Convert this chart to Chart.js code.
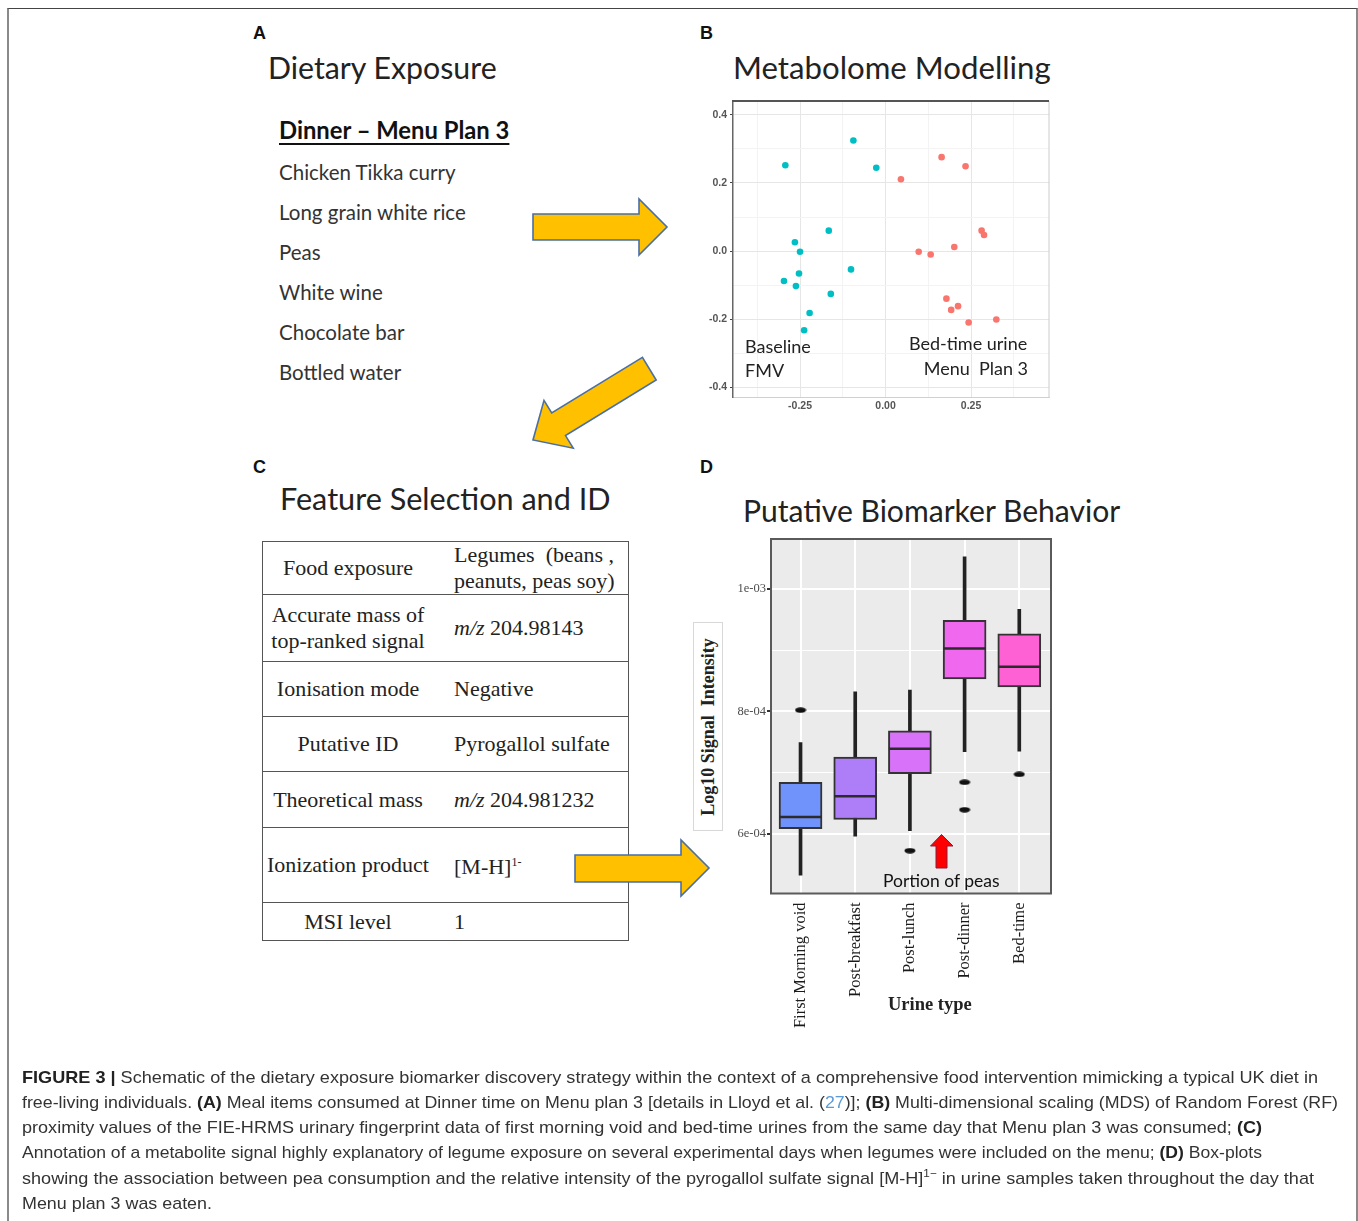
<!DOCTYPE html>
<html>
<head>
<meta charset="utf-8">
<script src="https://cdn.jsdelivr.net/npm/chart.js@4.4.1/dist/chart.umd.min.js"></script>
<style>
body { margin: 0; background: #fff; }
#page { position: relative; width: 1358px; height: 1221px; overflow: hidden; font-family: Lato, sans-serif; color: #222; }
.t { position: absolute; white-space: nowrap; line-height: 30px; height: 30px; }
.lbl { font-family: "Liberation Sans", Arial, sans-serif; font-weight: bold; font-size: 18px; color: #111; }
.ttl { color: #222; }
.item { font-size: 20.5px; color: #333; }
.ann { font-size: 18px; color: #222; }
#frame { position: absolute; left: 7px; top: 8px; width: 1347px; height: 1300px; border-top: 1.5px solid #444; border-left: 2px solid #8a8a8a; border-right: 2px solid #8a8a8a; }
#tbl { position: absolute; left: 262px; top: 541px; width: 367px; border-collapse: collapse; font-family: "Liberation Serif", serif; font-size: 22px; color: #222; }
#tbl td { border-top: 1.5px solid #555; border-bottom: 1.5px solid #555; padding: 0; line-height: 26px; }
#tbl td.c1 { width: 170px; text-align: center; border-left: 1.5px solid #555; }
#tbl td.c2 { padding-left: 21px; border-right: 1.5px solid #555; }
#tbl sup { font-size: 12px; }
#ytitle { position: absolute; left: 693px; top: 622px; width: 28px; height: 207px; border: 1px solid #d8d8d8; background: #fff; }
#ytitle span { position: absolute; left: 50%; top: 50%; transform: translate(-50%, -50%) rotate(-90deg); white-space: nowrap; font-family: "Liberation Serif", serif; font-weight: bold; font-size: 18px; color: #222; }
.cap { position: absolute; left: 22px; white-space: nowrap; font-family: "Liberation Sans", Arial, sans-serif; font-size: 17px; color: #333; line-height: 24px; height: 24px; transform-origin: 0 50%; }
.cap b { color: #222; }
.sp { font-size: 11px; position: relative; top: -7px; line-height: 0; }
canvas { position: absolute; }
svg { position: absolute; left: 0; top: 0; }
</style>
</head>
<body>
<div id="page">
<div id="frame"></div>

<div class="t lbl" style="left:253px;top:18px">A</div>
<div class="t lbl" style="left:700px;top:18px">B</div>
<div class="t lbl" style="left:253px;top:452px">C</div>
<div class="t lbl" style="left:700px;top:452px">D</div>

<div class="t ttl" style="left:268px;top:52px;font-size:30.3px">Dietary Exposure</div>
<div class="t ttl" style="left:733px;top:52px;font-size:31.2px">Metabolome Modelling</div>
<div class="t ttl" style="left:280px;top:484px;font-size:30.6px">Feature Selection and ID</div>
<div class="t ttl" style="left:743px;top:495px;font-size:30.1px">Putative Biomarker Behavior</div>

<div class="t" style="left:279px;top:115px;font-size:23.8px;font-weight:bold;color:#111;text-decoration:underline;text-decoration-thickness:2px;text-underline-offset:4px">Dinner – Menu Plan 3</div>
<div class="t item" style="left:279px;top:157px">Chicken Tikka curry</div>
<div class="t item" style="left:279px;top:197px">Long grain white rice</div>
<div class="t item" style="left:279px;top:237px">Peas</div>
<div class="t item" style="left:279px;top:277px">White wine</div>
<div class="t item" style="left:279px;top:317px">Chocolate bar</div>
<div class="t item" style="left:279px;top:357px">Bottled water</div>

<canvas id="mds" width="370" height="330" style="left:690px;top:90px;width:370px;height:330px"></canvas>
<div class="t ann" style="left:745px;top:331px">Baseline</div>
<div class="t ann" style="left:745px;top:355px">FMV</div>
<div class="t ann" style="left:909px;top:328px">Bed-time urine</div>
<div class="t ann" style="right:330px;top:353px">Menu&nbsp; Plan 3</div>

<table id="tbl">
<tr style="height:53px"><td class="c1">Food exposure</td><td class="c2">Legumes&nbsp; (beans ,<br>peanuts, peas soy)</td></tr>
<tr style="height:67px"><td class="c1">Accurate mass of<br>top-ranked signal</td><td class="c2"><i>m/z</i> 204.98143</td></tr>
<tr style="height:55px"><td class="c1">Ionisation mode</td><td class="c2">Negative</td></tr>
<tr style="height:55px"><td class="c1">Putative ID</td><td class="c2">Pyrogallol sulfate</td></tr>
<tr style="height:56px"><td class="c1">Theoretical mass</td><td class="c2"><i>m/z</i> 204.981232</td></tr>
<tr style="height:75px"><td class="c1">Ionization product</td><td class="c2">[M-H]<sup>1-</sup></td></tr>
<tr style="height:38px"><td class="c1">MSI level</td><td class="c2">1</td></tr>
</table>

<canvas id="box" width="330" height="520" style="left:730px;top:530px;width:330px;height:520px"></canvas>
<div id="ytitle"><span>Log10 Signal&nbsp; Intensity</span></div>
<div class="t" style="left:883px;top:866px;font-size:17.5px;color:#111">Portion of peas</div>
<div class="t" style="left:888px;top:989px;font-family:'Liberation Serif',serif;font-weight:bold;font-size:18.5px;color:#222">Urine type</div>

<svg width="1358" height="1221">
  <g fill="#FFC000" stroke="#4a6fa5" stroke-width="1.6" stroke-linejoin="miter">
    <polygon points="533,214 639,214 639,199 667,227 639,255 639,240 533,240"/>
    <polygon points="642.4,357.4 551.7,413 544,400.4 533,440 573.2,448.2 565.5,435.6 656.2,380"/>
    <polygon points="575,855 681,855 681,840 709,868 681,896 681,882 575,882"/>
  </g>
  <polygon points="941.5,834.5 953,846 947,846 947,868 936,868 936,846 930.5,846" fill="#FF0000" stroke="#8a1a3a" stroke-width="1"/>
</svg>

<div class="cap" data-right="1318" style="top:1066px"><b>FIGURE 3 |</b> Schematic of the dietary exposure biomarker discovery strategy within the context of a comprehensive food intervention mimicking a typical UK diet in</div>
<div class="cap" data-right="1338" style="top:1091px">free-living individuals. <b>(A)</b> Meal items consumed at Dinner time on Menu plan 3 [details in Lloyd et al. (<span style="color:#5b9bd5">27</span>)]; <b>(B)</b> Multi-dimensional scaling (MDS) of Random Forest (RF)</div>
<div class="cap" data-right="1262" style="top:1116px">proximity values of the FIE-HRMS urinary fingerprint data of first morning void and bed-time urines from the same day that Menu plan 3 was consumed; <b>(C)</b></div>
<div class="cap" data-right="1262" style="top:1141px">Annotation of a metabolite signal highly explanatory of legume exposure on several experimental days when legumes were included on the menu; <b>(D)</b> Box-plots</div>
<div class="cap" data-right="1314" style="top:1167px">showing the association between pea consumption and the relative intensity of the pyrogallol sulfate signal [M-H]<span class="sp">1−</span> in urine samples taken throughout the day that</div>
<div class="cap" data-right="212" style="top:1192px">Menu plan 3 was eaten.</div>
</div>

<script>
// Panel B: MDS of RF proximity
const fmvX = [-0.293, -0.094, -0.027, -0.166, -0.265, -0.250, -0.253, -0.297, -0.262, -0.101, -0.160, -0.222, -0.238];
const fmvY = [0.252, 0.325, 0.245, 0.060, 0.026, -0.002, -0.066, -0.088, -0.103, -0.054, -0.126, -0.182, -0.233];
const bedX = [0.164, 0.234, 0.045, 0.281, 0.288, 0.201, 0.097, 0.132, 0.178, 0.192, 0.212, 0.243, 0.324];
const bedY = [0.276, 0.249, 0.211, 0.060, 0.047, 0.012, -0.002, -0.010, -0.140, -0.173, -0.162, -0.210, -0.201];
const mdsXTicks = [-0.375, -0.25, -0.125, 0, 0.125, 0.25, 0.375];
const mdsYTicks = [-0.4, -0.3, -0.2, -0.1, 0, 0.1, 0.2, 0.3, 0.4];

// Panel D: box plots
const urineTypes = ['First Morning void', 'Post-breakfast', 'Post-lunch', 'Post-dinner', 'Bed-time'];
const whiskerLow = [5.32e-4, 5.96e-4, 6.05e-4, 7.34e-4, 7.35e-4];
const boxQ1 = [6.08e-4, 6.23e-4, 6.98e-4, 8.53e-4, 8.40e-4];
const boxMedian = [6.27e-4, 6.61e-4, 7.39e-4, 9.03e-4, 8.73e-4];
const boxQ3 = [6.84e-4, 7.25e-4, 7.68e-4, 9.49e-4, 9.27e-4];
const whiskerHigh = [7.49e-4, 8.32e-4, 8.35e-4, 10.53e-4, 9.67e-4];
const outlierGroup = [1, 3, 4, 4, 5];
const outlierValue = [8.02e-4, 5.72e-4, 6.84e-4, 6.39e-4, 6.97e-4];
const intensityTicks = [6e-4, 7e-4, 8e-4, 9e-4, 1e-3];
const boxColors = ['#7093FB', '#AE7EF9', '#D873F9', '#EF68EE', '#FD61D3'];

const isMajorX = v => Math.abs(v * 4 - Math.round(v * 4)) < 1e-9;
const isMajorY = v => Math.abs(v * 5 - Math.round(v * 5)) < 1e-9;
const isMajorD = v => Math.round(v * 1e4) % 2 === 0;

const frameB = {
    id: 'frameB',
    afterDraw(chart) {
        const a = chart.chartArea, g = chart.ctx;
        g.save();
        g.strokeStyle = '#cccccc';
        g.lineWidth = 1;
        g.beginPath(); g.moveTo(a.right, a.top); g.lineTo(a.right, a.bottom); g.stroke();
        g.strokeStyle = '#555';
        g.lineWidth = 2;
        g.beginPath(); g.moveTo(a.left - 1, a.top); g.lineTo(a.right, a.top); g.stroke();
        g.restore();
    }
};

new Chart(document.getElementById('mds'), {
    type: 'scatter',
    data: {
        datasets: [
            { data: fmvX.map((x, i) => ({ x: x, y: fmvY[i] })), backgroundColor: '#00BFC4', pointRadius: 3.3, borderWidth: 0 },
            { data: bedX.map((x, i) => ({ x: x, y: bedY[i] })), backgroundColor: '#F8766D', pointRadius: 3.3, borderWidth: 0 }
        ]
    },
    options: {
        responsive: false,
        animation: false,
        layout: { padding: { top: 11, right: 11, left: 0, bottom: 0 } },
        plugins: { legend: { display: false }, tooltip: { enabled: false } },
        scales: {
            x: {
                type: 'linear', min: -0.446, max: 0.478,
                afterBuildTicks: s => { s.ticks = mdsXTicks.map(v => ({ value: v })); },
                afterFit: s => { s.height = 23; },
                grid: { color: c => isMajorX(c.tick.value) ? '#e6e6e6' : '#f3f3f3', lineWidth: 1, drawTicks: false },
                border: { display: true, color: '#d0d0d0', width: 1 },
                ticks: {
                    autoSkip: false, maxRotation: 0, padding: 3, color: '#555',
                    font: { family: 'Liberation Sans', size: 10.5, weight: 'bold' },
                    callback: v => isMajorX(v) ? v.toFixed(2) : ''
                }
            },
            y: {
                type: 'linear', min: -0.429, max: 0.441,
                afterBuildTicks: s => { s.ticks = mdsYTicks.map(v => ({ value: v })); },
                afterFit: s => { s.width = 43; },
                grid: {
                    color: c => isMajorY(c.tick.value) ? '#e6e6e6' : '#f3f3f3', lineWidth: 1,
                    tickLength: 3, tickColor: c => isMajorY(c.tick.value) ? '#444' : 'rgba(0,0,0,0)'
                },
                border: { display: true, color: '#666', width: 1.5 },
                ticks: {
                    autoSkip: false, padding: 3, color: '#555',
                    font: { family: 'Liberation Sans', size: 10.5, weight: 'bold' },
                    callback: v => isMajorY(v) ? v.toFixed(1) : ''
                }
            }
        }
    },
    plugins: [frameB]
});

// ellipse marker for outliers
const dot = document.createElement('canvas');
dot.width = 12; dot.height = 6;
const dg = dot.getContext('2d');
dg.fillStyle = '#111';
dg.beginPath(); dg.ellipse(6, 3, 5.5, 2.7, 0, 0, Math.PI * 2); dg.fill();

const panelD = {
    id: 'panelD',
    beforeDraw(chart) {
        const a = chart.chartArea, g = chart.ctx;
        g.save();
        g.fillStyle = '#EBEBEB';
        g.fillRect(a.left, a.top, a.width, a.height);
        g.restore();
    },
    afterDatasetsDraw(chart) {
        const g = chart.ctx, xs = chart.scales.x, ys = chart.scales.y;
        g.save();
        g.strokeStyle = '#2b2b2b';
        g.lineWidth = 2.5;
        boxMedian.forEach((m, i) => {
            const px = xs.getPixelForValue(i + 1), py = ys.getPixelForValue(m);
            g.beginPath(); g.moveTo(px - 21, py); g.lineTo(px + 21, py); g.stroke();
        });
        g.restore();
    },
    afterDraw(chart) {
        const a = chart.chartArea, g = chart.ctx;
        g.save();
        g.strokeStyle = '#5a5a5a';
        g.lineWidth = 2;
        g.strokeRect(a.left, a.top, a.width, a.height);
        g.restore();
    }
};

const fmtExp = v => v.toExponential(0).replace(/e([+-])(\d)$/, (m, s, d) => 'e' + s + '0' + d);

new Chart(document.getElementById('box'), {
    type: 'bar',
    data: {
        datasets: [
            {
                data: urineTypes.map((n, i) => ({ x: i + 1, y: [whiskerLow[i], whiskerHigh[i]] })),
                backgroundColor: '#222', barThickness: 3, grouped: false, order: 3, borderWidth: 0
            },
            {
                data: urineTypes.map((n, i) => ({ x: i + 1, y: [boxQ1[i], boxQ3[i]] })),
                backgroundColor: boxColors, borderColor: '#333', borderWidth: 2, borderSkipped: false,
                barThickness: 43, grouped: false, order: 2
            },
            {
                type: 'scatter',
                data: outlierValue.map((v, i) => ({ x: outlierGroup[i], y: v })),
                pointStyle: dot, order: 1
            }
        ]
    },
    options: {
        responsive: false,
        animation: false,
        layout: { padding: { top: 9, right: 9, left: 0, bottom: 0 } },
        plugins: { legend: { display: false }, tooltip: { enabled: false } },
        scales: {
            x: {
                type: 'linear', min: 0.46, max: 5.58, offset: false,
                afterBuildTicks: s => { s.ticks = urineTypes.map((n, i) => ({ value: i + 1 })); },
                afterFit: s => { s.height = 156.5; },
                grid: { color: '#ffffff', lineWidth: 2, drawTicks: false, offset: false },
                border: { display: false },
                ticks: {
                    autoSkip: false, minRotation: 90, maxRotation: 90, padding: 9, color: '#1a1a1a',
                    font: { family: 'Liberation Serif', size: 16.5 },
                    callback: v => urineTypes[Math.round(v) - 1]
                }
            },
            y: {
                type: 'linear', min: 5.02e-4, max: 10.82e-4,
                afterBuildTicks: s => { s.ticks = intensityTicks.map(v => ({ value: v })); },
                afterFit: s => { s.width = 41; },
                grid: {
                    color: '#ffffff', lineWidth: c => isMajorD(c.tick.value) ? 2 : 1,
                    tickLength: 4, tickColor: c => isMajorD(c.tick.value) ? '#333' : 'rgba(0,0,0,0)'
                },
                border: { display: false },
                ticks: {
                    autoSkip: false, padding: 1, color: '#4d4d4d',
                    font: { family: 'Liberation Serif', size: 12.5 },
                    callback: v => isMajorD(v) ? fmtExp(v) : ''
                }
            }
        }
    },
    plugins: [panelD]
});

// condensed caption: each line squeezed to the width it has in the figure
document.querySelectorAll('.cap').forEach(c => {
    const k = (Number(c.dataset.right) - 22) / c.getBoundingClientRect().width;
    c.style.transform = 'scaleX(' + k + ')';
});
</script>
</body>
</html>
